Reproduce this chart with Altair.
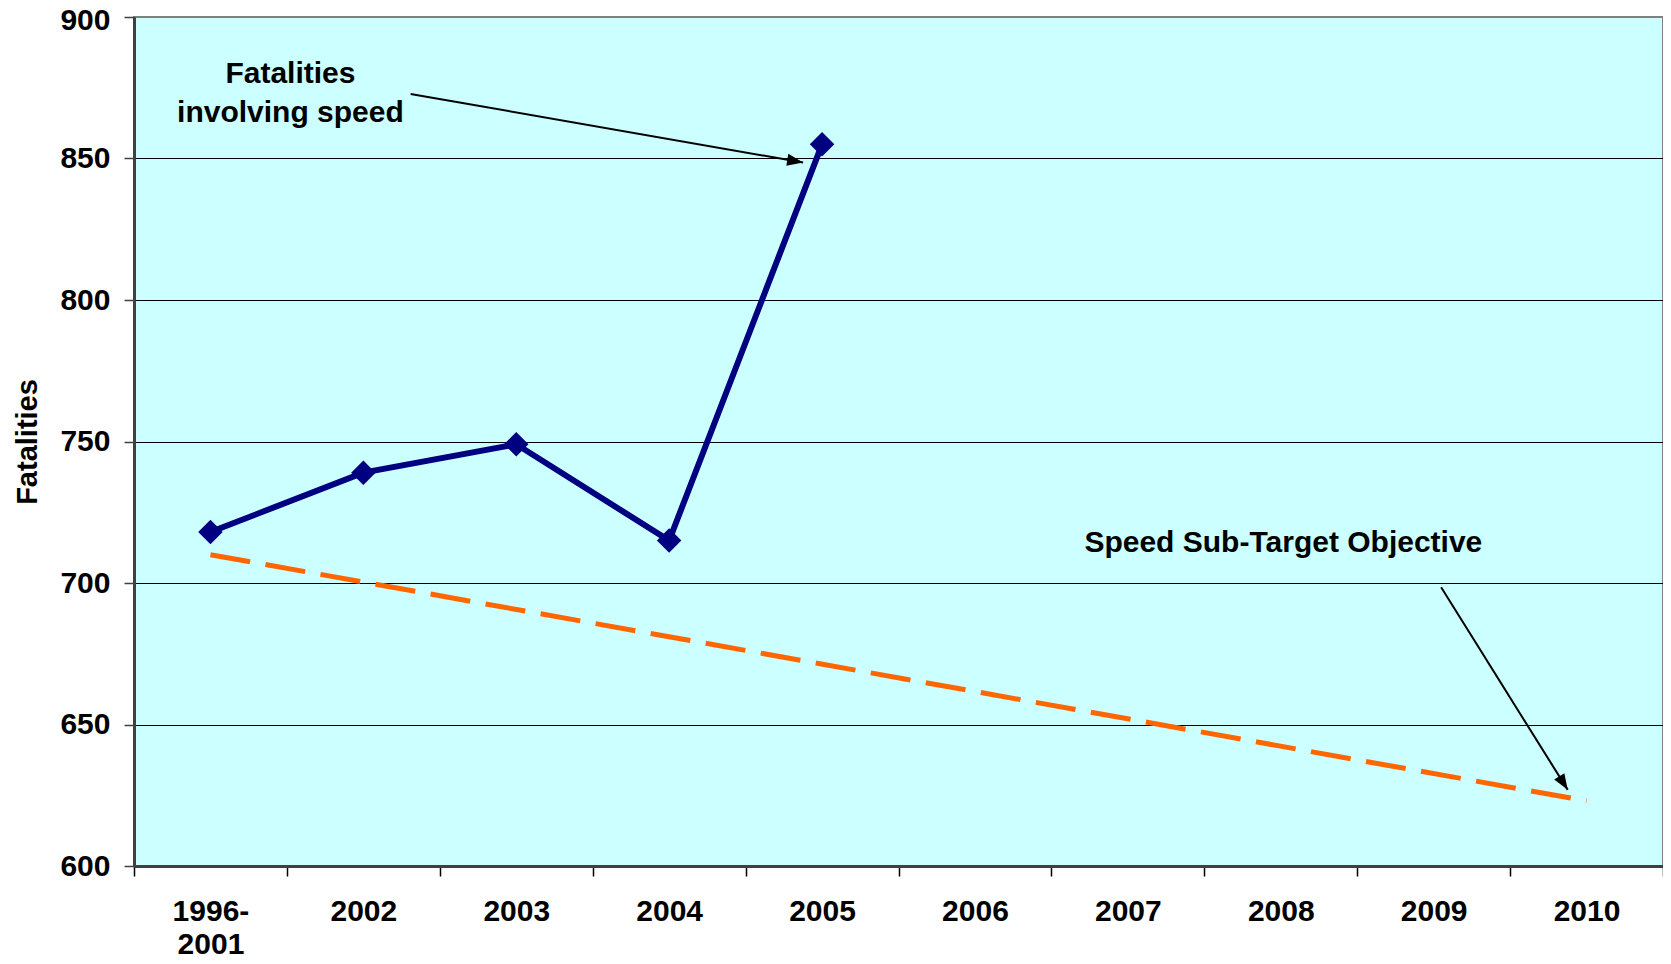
import altair as alt
import pandas as pd

# ---- data ----
categories = ["1996-2001", "2002", "2003", "2004", "2005",
              "2006", "2007", "2008", "2009", "2010"]
speed_years = ["1996-2001", "2002", "2003", "2004", "2005"]
speed_fatalities = [718, 739, 749, 715, 855]
target_years = ["1996-2001", "2010"]
target_values = [710, 623]

# annotations (x in category-index units, y in fatalities)
note_text = ["Fatalities\ninvolving speed", "Speed Sub-Target Objective"]
note_x = [1.023, 7.517]
note_y = [876.7, 711.0]
arrow_x1 = [1.809, 8.549]
arrow_y1 = [872.8, 698.5]
arrow_x2 = [4.376, 9.377]
arrow_y2 = [848.6, 626.9]
arrow_angle = [9.8, 57.9]

FONT = "Liberation Sans"
W, H = 1529, 849

speed_df = pd.DataFrame({"year": speed_years, "fatalities": speed_fatalities})
target_df = pd.DataFrame({"year": target_years, "fatalities": target_values})
notes_df = pd.DataFrame({"text": note_text, "x": note_x, "y": note_y})
arrows_df = pd.DataFrame({"x1": arrow_x1, "y1": arrow_y1, "x2": arrow_x2,
                          "y2": arrow_y2, "angle": arrow_angle})

yscale = alt.Scale(domain=[600, 900], nice=False, zero=False)
xscale = alt.Scale(type="band", domain=categories, paddingInner=0, paddingOuter=0)
iscale = alt.Scale(domain=[0, 10], nice=False, zero=False)

x_axis = alt.Axis(
    title=None, labelAngle=0, tickBand="extent", grid=False,
    labelExpr="datum.value == '1996-2001' ? ['1996-', '2001'] : datum.value",
    domainColor="#404040", domainWidth=3, tickColor="#000000", tickWidth=1.5,
    tickSize=10, labelFont=FONT, labelFontSize=30, labelFontWeight="bold",
    labelColor="#000000", labelPadding=20, labelLineHeight=33,
    labelOverlap=False, labelFlush=False,
)
y_axis = alt.Axis(
    values=[600, 650, 700, 750, 800, 850, 900], grid=True,
    gridColor="#000000", gridWidth=1,
    gridOpacity={"condition": {"test": "datum.value === 900 || datum.value === 600",
                               "value": 0}, "value": 1},
    labelOffset={"condition": {"test": "datum.value === 900", "value": 3}, "value": 0},
    domainColor="#404040", domainWidth=3, tickColor="#404040", tickWidth=1.5,
    tickSize=10, labelFont=FONT, labelFontSize=30, labelFontWeight="bold",
    labelColor="#000000", labelPadding=14,
    title="Fatalities", titleFont=FONT, titleFontSize=29, titleFontWeight="bold",
    titleColor="#000000", titleX=-106.5, titleY=H / 2, titleAlign="center",
    titleBaseline="middle", titleAngle=270,
)

target = alt.Chart(target_df).mark_line(
    color="#FF6600", strokeWidth=5, strokeDash=[40.3, 15.6]
).encode(
    x=alt.X("year:N", scale=xscale, axis=x_axis, sort=categories),
    y=alt.Y("fatalities:Q", scale=yscale, axis=y_axis),
)
speed_line = alt.Chart(speed_df).mark_line(
    color="#000080", strokeWidth=6
).encode(
    x=alt.X("year:N", scale=xscale, sort=categories),
    y=alt.Y("fatalities:Q", scale=yscale),
)
speed_pts = alt.Chart(speed_df).mark_point(
    shape="diamond", filled=True, color="#000080", size=600, opacity=1
).encode(
    x=alt.X("year:N", scale=xscale, sort=categories),
    y=alt.Y("fatalities:Q", scale=yscale),
)
main = alt.layer(target, speed_line, speed_pts)

arrow_lines = alt.Chart(arrows_df).mark_rule(color="#000000", strokeWidth=2).encode(
    x=alt.X("x1:Q", scale=iscale, axis=None),
    x2="x2:Q",
    y=alt.Y("y1:Q", scale=yscale),
    y2="y2:Q",
)
arrow_heads = alt.Chart(arrows_df).mark_point(
    shape="M0,0L-2,-0.75L-2,0.75Z", filled=True, color="#000000",
    size=256, opacity=1
).encode(
    x=alt.X("x2:Q", scale=iscale, axis=None),
    y=alt.Y("y2:Q", scale=yscale),
    angle=alt.Angle("angle:Q", scale=None),
)
notes = alt.Chart(notes_df).mark_text(
    font=FONT, fontSize=30, fontWeight="bold", color="#000000",
    align="center", baseline="alphabetic", lineBreak="\n", lineHeight=39
).encode(
    x=alt.X("x:Q", scale=iscale, axis=None),
    y=alt.Y("y:Q", scale=yscale),
    text="text:N",
)
ann = alt.layer(arrow_lines, arrow_heads, notes)

chart = alt.layer(main, ann).resolve_scale(x="independent").properties(
    width=W, height=H,
    autosize=alt.AutoSizeParams(type="none"),
    padding={"left": 126, "top": 9, "right": 0, "bottom": 90},
).configure_view(
    fill="#CCFFFF", stroke="#808080", strokeWidth=2
)

chart.save("out.html", embed_options={"renderer": "svg", "actions": False})
